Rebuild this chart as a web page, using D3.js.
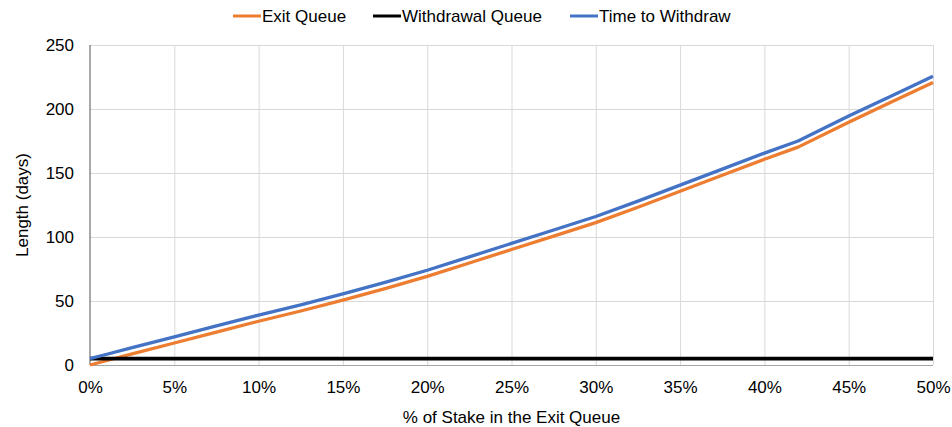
<!DOCTYPE html>
<html>
<head>
<meta charset="utf-8">
<script src="https://cdn.jsdelivr.net/npm/d3@7"></script>
<style>
  html, body { margin: 0; padding: 0; background: #fff; }
  svg { display: block; font-family: "Liberation Sans", Arial, sans-serif; }
</style>
</head>
<body>
<svg id="chart" width="952" height="427"></svg>
<script>
// ---- data ----
const stakePct = [0, 1, 2.5, 5, 7.5, 10, 12.5, 15, 17.5, 20, 22.5, 25, 27.5, 30, 32.5, 35, 37.5, 40, 42, 45, 47.5, 50];
const exitQueue = [0, 3.5, 8.7, 17.2, 25.7, 34.2, 42.2, 50.7, 59.7, 69.2, 79.7, 90.2, 100.7, 111.2, 123.2, 135.7, 148.2, 160.7, 170.2, 189.7, 205.2, 220.7];
const withdrawalQueue = [5, 5, 5, 5, 5, 5, 5, 5, 5, 5, 5, 5, 5, 5, 5, 5, 5, 5, 5, 5, 5, 5];
const timeToWithdraw = [5, 8.4, 13.5, 22, 30.5, 39, 47, 55.5, 64.5, 74, 84.5, 95, 105.5, 116, 128, 140.5, 153, 165.5, 175, 194.5, 210, 225.5];
const xTicks = [0, 5, 10, 15, 20, 25, 30, 35, 40, 45, 50];
const yTicks = [0, 50, 100, 150, 200, 250];
const seriesNames = ["Exit Queue", "Withdrawal Queue", "Time to Withdraw"];
const seriesColors = ["#ed7d31", "#000000", "#4472c4"];

const series = [exitQueue, withdrawalQueue, timeToWithdraw];

// ---- layout ----
const svg = d3.select("#chart");
const margin = { left: 90, right: 19, top: 45, bottom: 62 };
const W = 952, H = 427;
const x = d3.scaleLinear().domain([0, 50]).range([margin.left, W - margin.right]);
const y = d3.scaleLinear().domain([0, 250]).range([H - margin.bottom, margin.top]);

// grid
const gx = svg.append("g").attr("transform", `translate(0,${H - margin.bottom})`)
  .call(d3.axisBottom(x).tickValues(xTicks).tickSize(-(H - margin.bottom - margin.top)).tickFormat(d => d + "%"));
gx.select(".domain").remove();
gx.selectAll(".tick line").attr("stroke", "#d9d9d9").attr("stroke-width", 1)
  .filter(d => d === 0).remove();
gx.selectAll(".tick text").attr("font-size", 17).attr("fill", "#000").attr("dy", 25)
  .attr("font-family", "Liberation Sans, Arial, sans-serif");

const gy = svg.append("g").attr("transform", `translate(${margin.left},0)`)
  .call(d3.axisLeft(y).tickValues(yTicks).tickSize(-(W - margin.right - margin.left)).tickPadding(16));
gy.select(".domain").remove();
gy.selectAll(".tick line").attr("stroke", "#d9d9d9").attr("stroke-width", 1)
  .filter(d => d === 0).attr("stroke", "#a6a6a6");
gy.selectAll(".tick text").attr("font-size", 17).attr("fill", "#000")
  .attr("font-family", "Liberation Sans, Arial, sans-serif");

// left axis line
svg.append("line")
  .attr("x1", x(0)).attr("x2", x(0))
  .attr("y1", y(250)).attr("y2", y(0))
  .attr("stroke", "#555").attr("stroke-width", 1);

// lines
const line = d3.line().x((d, i) => x(stakePct[i])).y(d => y(d));
series.forEach((s, i) => {
  svg.append("path")
    .datum(s)
    .attr("fill", "none")
    .attr("stroke", seriesColors[i])
    .attr("stroke-width", i === 1 ? 3.6 : 3.3)
    .attr("stroke-linejoin", "round")
    .attr("d", line);
});

// legend
const legendX = [233, 373, 570];
const legend = svg.append("g");
seriesNames.forEach((n, i) => {
  legend.append("line")
    .attr("x1", legendX[i]).attr("x2", legendX[i] + 28)
    .attr("y1", 16).attr("y2", 16)
    .attr("stroke", seriesColors[i]).attr("stroke-width", 3);
  legend.append("text")
    .attr("x", legendX[i] + 29).attr("y", 22)
    .attr("font-size", 17).attr("fill", "#000")
    .text(n);
});

// axis titles
svg.append("text")
  .attr("x", (x(0) + x(50)) / 2).attr("y", 423)
  .attr("text-anchor", "middle").attr("font-size", 17).attr("fill", "#000")
  .text("% of Stake in the Exit Queue");
svg.append("text")
  .attr("transform", `translate(28,${(y(0) + y(250)) / 2}) rotate(-90)`)
  .attr("text-anchor", "middle").attr("font-size", 17).attr("fill", "#000")
  .text("Length (days)");
</script>
</body>
</html>
